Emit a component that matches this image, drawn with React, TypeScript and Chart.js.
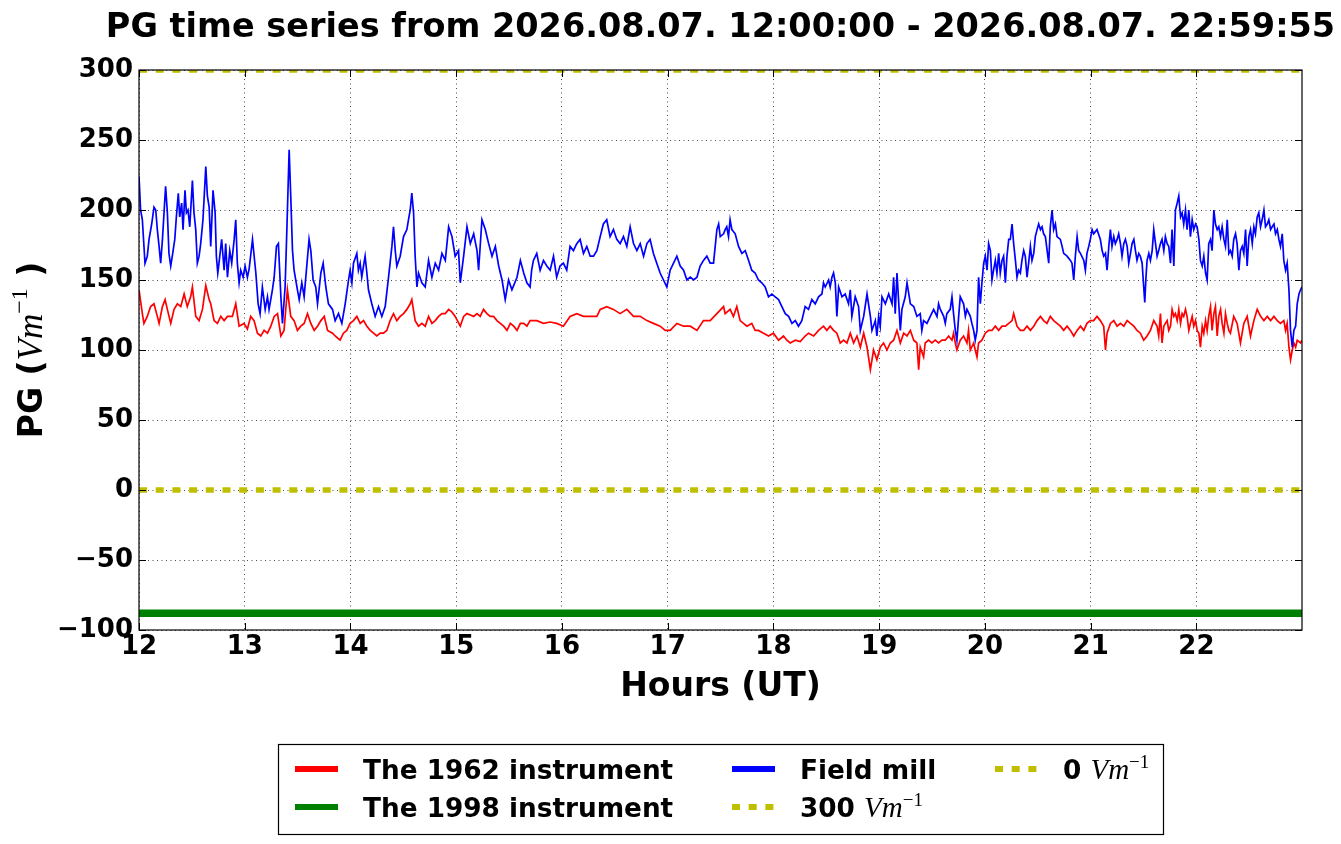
import React, { useEffect, useRef } from 'react';
import { Chart, registerables } from 'chart.js';

Chart.register(...registerables);

const TITLE = 'PG time series from 2026.08.07. 12:00:00 - 2026.08.07. 22:59:55';
const X_LABEL = 'Hours (UT)';
const START_HOUR = 12;
const END_HOUR = 22 + 59 / 60 + 55 / 3600;
const xTickValues = [12, 13, 14, 15, 16, 17, 18, 19, 20, 21, 22];
const yTickValues = [-100, -50, 0, 50, 100, 150, 200, 250, 300];
const Y_MIN = -100;
const Y_MAX = 300;

// [minutes since 12:00 UT, PG in V/m]
const fieldMill: [number, number][] = [
  [0, 224], [0.9, 200], [1.9, 193], [3.4, 162], [4.7, 167], [5.7, 179], [7.2, 190], [8.5, 202], [9.5, 200], [10.4, 186],
  [11.4, 174], [12.3, 162], [13.3, 179], [14.2, 198], [15.1, 217], [16.1, 198], [17.0, 169], [18.0, 160], [18.9, 167], [20.3, 179],
  [21.2, 195], [22.3, 212], [23.1, 195], [24.2, 205], [25.0, 186], [26.1, 214], [26.9, 198], [27.8, 200], [28.8, 188], [30.3, 221],
  [31.2, 198], [32.2, 186], [33.1, 162], [34.1, 167], [35.0, 176], [36.3, 193], [37.9, 231], [38.8, 210], [39.8, 202], [40.7, 174],
  [42.0, 214], [43.2, 198], [43.9, 167], [44.7, 155], [45.4, 162], [46.9, 179], [48.3, 157], [49.2, 176], [50.2, 152], [51.5, 171],
  [52.6, 162], [54.0, 179], [54.9, 193], [55.8, 162], [56.8, 148], [57.7, 157], [59.1, 152], [60.2, 160], [61.5, 152], [62.5, 158],
  [64.4, 179], [66.3, 155], [67.6, 133], [68.7, 126], [70.0, 145], [71.6, 129], [72.9, 138], [73.8, 129], [75.7, 143], [76.7, 152],
  [78.0, 174], [79.1, 176], [80.5, 138], [81.4, 119], [82.9, 145], [83.9, 186], [85.2, 243], [86.1, 210], [87.1, 171], [88.0, 157],
  [89.9, 143], [90.9, 136], [92.4, 148], [93.7, 138], [96.5, 179], [97.5, 171], [98.8, 150], [100.3, 145], [101.3, 133], [103.2, 155],
  [104.5, 162], [106.0, 145], [107.5, 133], [109.8, 129],
  [111.3, 121], [113.2, 126], [115.1, 119], [117.0, 133], [118.9, 150], [119.8, 157], [120.8, 148], [121.7, 162], [123.6, 169], [124.5, 157],
  [125.5, 162], [126.4, 152], [127.4, 160], [128.3, 167], [129.3, 155], [130.2, 143], [132.1, 133], [134.0, 124], [135.9, 131], [137.8, 124],
  [139.7, 131], [141.6, 152], [143.5, 174], [144.4, 188], [145.4, 171], [146.3, 160], [148.2, 167], [150.1, 181], [152.0, 186], [152.9, 193],
  [153.9, 200], [154.8, 212], [155.8, 198], [156.7, 167], [157.7, 145], [158.6, 155], [160.5, 148], [162.4, 145], [164.3, 164], [166.2, 152],
  [168.1, 162], [170.0, 157], [171.9, 169], [173.8, 164], [175.7, 188], [177.6, 181], [179.4, 167], [181.3, 171], [182.3, 148], [184.2, 167],
  [186.1, 188], [188.0, 176], [189.9, 183], [191.8, 171], [192.7, 157], [194.6, 193], [196.5, 186], [198.4, 176], [200.3, 167], [202.2, 174],
  [204.1, 160], [206.0, 150], [207.8, 136], [209.7, 150], [211.6, 143], [214.5, 152], [216.4, 164], [218.3, 155], [220.1, 148],
  [221.9, 145], [222.8, 157], [223.8, 164], [225.7, 169], [227.6, 157], [229.5, 164], [231.4, 160], [233.3, 157], [235.2, 167], [237.0, 152],
  [238.9, 160], [240.8, 162], [242.7, 157], [244.6, 174], [246.5, 171], [248.4, 176], [250.3, 179], [252.2, 169], [254.1, 174], [256.0, 167],
  [257.9, 167], [259.8, 171], [261.7, 181], [263.5, 190], [265.4, 193], [267.3, 181], [269.2, 186], [271.1, 179], [273.0, 176], [274.9, 181],
  [276.8, 174], [278.7, 188], [280.6, 176], [282.5, 171], [284.4, 176], [286.3, 167], [288.2, 176], [290.0, 179], [291.9, 169], [293.8, 162],
  [295.7, 155], [297.6, 150], [299.5, 145], [301.4, 157], [303.3, 162], [305.2, 167], [307.1, 160], [309.0, 157], [310.9, 150], [312.8, 152],
  [314.7, 150], [316.6, 152], [318.4, 160], [320.3, 164], [322.2, 167], [324.1, 162], [326.0, 162], [327.9, 186], [328.9, 190], [329.8, 181],
  [331.7, 183],
  [332.6, 186], [333.5, 188], [334.5, 181], [335.4, 193], [336.4, 186], [338.3, 183], [340.2, 174], [342.1, 169], [344.0, 171], [345.9, 164],
  [347.7, 157], [349.6, 155], [351.5, 150], [353.4, 148], [355.3, 145], [357.2, 138], [359.1, 140], [361.0, 138], [362.9, 136], [364.8, 131],
  [366.7, 126], [368.6, 124], [370.5, 119], [372.4, 121], [374.2, 117], [376.1, 121], [378.0, 131], [379.9, 129], [381.8, 136], [383.7, 133],
  [385.6, 138], [387.5, 140], [388.4, 148], [389.4, 145], [391.3, 150], [392.2, 145], [393.2, 152], [394.1, 155], [395.1, 148], [396.0, 124],
  [397.0, 145], [398.9, 138], [400.7, 140], [402.6, 133], [403.6, 143], [404.5, 124], [406.4, 138], [408.3, 131], [409.3, 114], [411.2, 124],
  [413.1, 140], [415.0, 124], [415.9, 114], [417.8, 121], [418.7, 110], [419.7, 124], [420.6, 117], [421.6, 138], [423.5, 133], [425.4, 140],
  [427.3, 133], [428.2, 152], [429.1, 126], [430.1, 155], [432.0, 114], [432.9, 129], [434.8, 138], [435.8, 148], [437.7, 133], [439.6, 131],
  [441.4, 124],
  [443.3, 126], [444.2, 114], [445.2, 121], [447.1, 119], [449.0, 124], [450.9, 129], [452.8, 124], [453.7, 133], [454.7, 129], [456.6, 124],
  [457.5, 119], [458.4, 126], [460.3, 129], [461.3, 138], [462.2, 126], [463.2, 114], [464.1, 107], [465.1, 124], [466.0, 138], [467.9, 133],
  [468.9, 124], [469.8, 129], [471.7, 124], [472.6, 119], [473.6, 114], [474.5, 107], [475.5, 114], [476.4, 152], [477.4, 133], [478.3, 148],
  [479.3, 162], [480.2, 167], [481.2, 157], [482.1, 176], [483.1, 171], [484.0, 150], [484.9, 157], [485.9, 164], [486.8, 155], [487.8, 169],
  [488.7, 155], [489.7, 164], [490.6, 167], [491.6, 148], [492.5, 167], [493.5, 179], [494.4, 179], [495.4, 190], [496.3, 176], [497.3, 164],
  [498.2, 152], [499.1, 157], [500.1, 155], [501.0, 164], [502.0, 171], [502.9, 167], [503.9, 152], [504.8, 162], [505.8, 174], [506.7, 164],
  [507.7, 169], [508.6, 181], [509.6, 186], [510.5, 190], [511.5, 186], [512.4, 188], [513.3, 183], [514.3, 181], [516.2, 162], [517.1, 188],
  [518.1, 200], [519.0, 186], [520.0, 190], [520.9, 181], [522.8, 179], [523.8, 174], [524.7, 169], [526.6, 167], [528.5, 164], [529.4, 162],
  [530.4, 150], [531.3, 167], [532.3, 181], [533.2, 171], [534.2, 169], [536.1, 164], [537.0, 157], [537.9, 169], [538.9, 174], [539.8, 179],
  [540.8, 186], [541.7, 183], [543.6, 186], [545.5, 179], [546.5, 171], [547.4, 167], [548.4, 169], [549.3, 157], [550.3, 174],
  [551.2, 186], [552.1, 174], [553.1, 181], [554.0, 176], [555.0, 179], [555.9, 183], [556.9, 176], [557.8, 167], [558.8, 176], [559.7, 179],
  [560.7, 174], [561.6, 162], [562.6, 169], [563.5, 176], [564.5, 179], [565.4, 171], [566.3, 164], [567.3, 169], [568.2, 167], [569.2, 162],
  [570.1, 145], [570.7, 134], [571.3, 150], [572.0, 164], [573.0, 169], [573.9, 164], [574.9, 171], [575.8, 186], [576.8, 176], [577.7, 167],
  [578.6, 171], [579.6, 176], [580.5, 179], [581.5, 171], [582.4, 181], [583.4, 176], [584.3, 174], [585.3, 162], [586.2, 186], [587.2, 160],
  [588.1, 200], [589.1, 205], [590.0, 210], [591.0, 195], [591.9, 198], [592.8, 190], [593.8, 200], [594.7, 186], [595.7, 200], [596.6, 181],
  [597.6, 193], [598.5, 186], [599.5, 190], [600.4, 188], [601.4, 179], [602.3, 164], [603.3, 160], [604.2, 167], [605.2, 155], [606.1, 150],
  [607.0, 176], [608.0, 179], [608.9, 171], [609.9, 200], [610.8, 190], [611.8, 186], [612.7, 188], [613.7, 181], [614.6, 188], [615.6, 179],
  [616.5, 174], [617.5, 193], [618.4, 169], [619.3, 171], [620.3, 167], [621.2, 179], [622.2, 183], [623.1, 176], [624.1, 157], [625.0, 171],
  [626.0, 174], [626.9, 169], [627.9, 186], [628.8, 160], [629.8, 181], [630.7, 186], [631.7, 176], [632.6, 188], [633.5, 183], [634.5, 195],
  [635.4, 198], [636.4, 188], [637.3, 193], [638.3, 200], [639.2, 188], [640.2, 190], [641.1, 193], [642.1, 186], [643.0, 188], [644.0, 190],
  [644.9, 183], [645.9, 186], [646.8, 179], [647.7, 174], [648.7, 183], [649.6, 164], [650.6, 157], [651.5, 162], [652.5, 143], [653.4, 114],
  [654.4, 102], [655.3, 114], [656.3, 117], [657.2, 133], [658.2, 140], [659.1, 143], [659.9, 145],
];

const instrument1962: [number, number][] = [
  [0, 143], [1.9, 126], [2.8, 119], [4.7, 124], [6.6, 131], [8.5, 133], [10.4, 124], [11.4, 119], [13.3, 131], [14.8, 136],
  [16.1, 129], [18.0, 119], [19.9, 129], [21.8, 133], [23.7, 131], [25.6, 140], [27.4, 131], [29.3, 138], [30.3, 145], [32.2, 124],
  [34.1, 121], [36.0, 129], [37.9, 146], [39.8, 136], [40.7, 133], [42.6, 121], [44.5, 119], [46.4, 124], [48.3, 121], [50.2, 124],
  [53.0, 124], [54.9, 133], [56.8, 117], [59.6, 119], [61.5, 115], [63.4, 124], [65.3, 121], [67.2, 112], [69.1, 110], [71.0, 114],
  [72.9, 112], [74.8, 117], [76.7, 124], [78.6, 126], [80.5, 110], [82.3, 114], [84.2, 143], [86.1, 124], [88.0, 121], [89.9, 114],
  [91.8, 117], [93.7, 119], [95.6, 126], [97.5, 119], [99.4, 114], [101.3, 117], [103.2, 121], [105.1, 124], [107.0, 114], [109.8, 112],
  [111.3, 110], [114.1, 107], [116.0, 112], [117.9, 114], [119.8, 119], [121.7, 121], [123.6, 124], [125.5, 119], [127.4, 121], [129.3, 117],
  [131.2, 114], [133.1, 112], [134.9, 110], [136.9, 112], [138.7, 112], [140.6, 114], [142.5, 121], [144.4, 126], [146.3, 121], [148.2, 124],
  [150.1, 126], [152.0, 129], [153.9, 133], [154.8, 136], [156.7, 121], [158.6, 117], [160.5, 119], [162.4, 117], [164.3, 124], [166.2, 119],
  [168.1, 121], [170.0, 124], [171.9, 126], [173.8, 126], [175.7, 129], [177.6, 127], [179.4, 124], [182.3, 117], [184.2, 124], [186.1, 126],
  [188.0, 125], [189.9, 124], [191.8, 126], [193.6, 124], [195.5, 129], [197.4, 126], [199.3, 124], [201.2, 124], [203.1, 121], [205.0, 119],
  [206.9, 117], [208.8, 114], [210.7, 119], [212.6, 117], [214.5, 114], [216.4, 119], [218.3, 119], [220.1, 117],
  [221.9, 121], [225.7, 121], [229.5, 119], [233.3, 120], [237.0, 119], [240.8, 117], [244.6, 124], [248.4, 126], [252.2, 124], [256.0, 124],
  [259.8, 124], [261.7, 129], [265.4, 131], [269.2, 129], [273.0, 126], [276.8, 129], [280.6, 124], [284.4, 124], [288.2, 121], [291.9, 119],
  [295.7, 117], [298.6, 114], [301.4, 114], [305.2, 119], [309.0, 117], [312.8, 117], [316.6, 114], [320.3, 121], [324.1, 121], [327.9, 126],
  [331.7, 131],
  [332.6, 126], [335.4, 129], [337.3, 124], [339.2, 131], [341.1, 121], [343.0, 119], [344.9, 117], [347.7, 119], [349.6, 114], [351.5, 114],
  [354.4, 112], [357.2, 110], [360.0, 112], [362.9, 107], [365.7, 110], [367.6, 107], [369.5, 105], [372.4, 107], [375.2, 106], [378.0, 110],
  [379.9, 112], [382.8, 110], [385.6, 114], [388.4, 117], [390.3, 114], [392.2, 117], [394.1, 114], [396.0, 112], [397.9, 105], [399.8, 107],
  [401.7, 105], [403.6, 112], [405.5, 105], [407.4, 110], [409.3, 102], [411.2, 112], [413.1, 102], [415.0, 86], [416.8, 100], [418.7, 93],
  [420.6, 102], [422.5, 105], [424.4, 100], [426.3, 105], [428.2, 107], [430.1, 114], [432.0, 105], [433.9, 112], [435.8, 110], [437.7, 114],
  [439.6, 107], [441.4, 105], [442.4, 86],
  [443.3, 102], [445.2, 95], [446.1, 105], [448.0, 107], [449.9, 105], [451.8, 107], [453.7, 105], [455.6, 107], [457.5, 107], [459.4, 110],
  [461.3, 107], [462.2, 112], [463.2, 105], [464.1, 100], [466.0, 107], [467.9, 110], [469.8, 105], [470.7, 114], [471.7, 100], [473.6, 105],
  [474.5, 100], [475.5, 95], [476.4, 105], [478.3, 107], [480.2, 112], [482.1, 114], [484.0, 114], [485.9, 117], [487.8, 114], [489.7, 117],
  [491.6, 117], [493.5, 119], [495.4, 121], [496.3, 126], [498.2, 117], [500.1, 114], [502.0, 114], [503.9, 117], [505.8, 114], [507.7, 117],
  [509.6, 121], [511.5, 124], [513.3, 121], [515.2, 119], [517.1, 124], [519.0, 121], [520.9, 119], [522.8, 117], [524.7, 114], [526.6, 117],
  [528.5, 114], [530.4, 110], [532.3, 114], [534.2, 117], [536.1, 114], [537.9, 119], [539.8, 121], [541.7, 121], [543.6, 124], [545.5, 121],
  [547.4, 117], [548.4, 100], [549.3, 112],
  [551.2, 119], [553.1, 121], [555.0, 117], [556.9, 119], [558.8, 117], [560.7, 121], [562.6, 119], [564.5, 117], [566.3, 114], [568.2, 112],
  [570.1, 107], [572.0, 110], [573.9, 114], [575.8, 121], [577.7, 117], [578.6, 110], [579.6, 126], [580.5, 105], [581.5, 117], [582.4, 119],
  [583.4, 121], [584.3, 114], [585.3, 117], [586.2, 129], [587.2, 124], [588.1, 126], [589.1, 121], [590.0, 129], [591.0, 119], [591.9, 126],
  [592.8, 124], [593.8, 129], [594.7, 124], [595.7, 114], [596.6, 119], [597.6, 124], [598.5, 117], [599.5, 121], [600.4, 114], [601.4, 112],
  [602.3, 102], [603.3, 117], [604.2, 112], [605.2, 121], [606.1, 114], [607.0, 124], [608.0, 131], [608.9, 114], [609.9, 126], [610.8, 131],
  [611.8, 110], [612.7, 124], [613.7, 129], [614.6, 119], [615.6, 112], [616.5, 126], [617.5, 119], [618.4, 114], [619.3, 112], [621.2, 124],
  [623.1, 119], [625.0, 105], [626.9, 119], [628.8, 124], [630.7, 110], [632.6, 121], [634.5, 129], [636.4, 124], [638.3, 121], [640.2, 124],
  [642.1, 121], [644.0, 124], [645.9, 121], [647.7, 119], [649.6, 121], [650.6, 114], [651.5, 119], [652.5, 102], [653.4, 93], [654.4, 100],
  [655.3, 105], [656.3, 102], [657.2, 107], [659.1, 105], [659.9, 107],
];

const instrument1998Level = -88;
const referenceLevel300 = 300;
const referenceLevel0 = 0;

type Part = { text: string; font: string; dy?: number };

const SANS = '"DejaVu Sans", "Noto Sans", sans-serif';
const SERIF = '"Liberation Serif", "DejaVu Serif", serif';

const legendLabels: Part[][] = [
  [{ text: 'The 1962 instrument', font: `bold 26.3px ${SANS}` }],
  [{ text: 'The 1998 instrument', font: `bold 26.3px ${SANS}` }],
  [{ text: 'Field mill', font: `bold 26.3px ${SANS}` }],
  [
    { text: '300 ', font: `bold 26.3px ${SANS}` },
    { text: 'Vm', font: `italic 29px ${SERIF}` },
    { text: '\u22121', font: `19px ${SERIF}`, dy: -11 },
  ],
  [
    { text: '0 ', font: `bold 26.3px ${SANS}` },
    { text: 'Vm', font: `italic 29px ${SERIF}` },
    { text: '\u22121', font: `19px ${SERIF}`, dy: -11 },
  ],
];

const yLabelParts: Part[] = [
  { text: 'PG (', font: `bold 33px ${SANS}` },
  { text: 'Vm', font: `italic 35px ${SERIF}` },
  { text: '\u22121', font: `24px ${SERIF}`, dy: -15 },
  { text: ' )', font: `bold 33px ${SANS}` },
];

function partsWidth(ctx: CanvasRenderingContext2D, parts: Part[]) {
  let w = 0;
  for (const p of parts) {
    ctx.font = p.font;
    w += ctx.measureText(p.text).width;
  }
  return w;
}

function drawParts(ctx: CanvasRenderingContext2D, parts: Part[], x: number, y: number) {
  let cx = x;
  for (const p of parts) {
    ctx.font = p.font;
    ctx.fillText(p.text, cx, y + (p.dy || 0));
    cx += ctx.measureText(p.text).width;
  }
}

const toPoints = (arr: [number, number][]) => arr.map(([m, v]) => ({ x: START_HOUR + m / 60, y: v }));
const flat = (v: number) => [
  { x: START_HOUR, y: v },
  { x: END_HOUR, y: v },
];

const decorPlugin = {
  id: 'decor',
  afterDraw(chart: any) {
    const { ctx, chartArea } = chart;
    const { left, right, top, bottom } = chartArea;
    const xs = chart.scales.x;
    const ys = chart.scales.y;
    ctx.save();
    // frame
    ctx.strokeStyle = '#000';
    ctx.lineWidth = 1.2;
    ctx.setLineDash([]);
    ctx.strokeRect(left, top, right - left, bottom - top);
    // inward ticks on all sides
    ctx.lineWidth = 1;
    const TL = 7;
    ctx.beginPath();
    for (const v of xTickValues) {
      const px = Math.round(xs.getPixelForValue(v)) + 0.5;
      ctx.moveTo(px, bottom);
      ctx.lineTo(px, bottom - TL);
      ctx.moveTo(px, top);
      ctx.lineTo(px, top + TL);
    }
    for (const v of yTickValues) {
      const py = Math.round(ys.getPixelForValue(v)) + 0.5;
      ctx.moveTo(left, py);
      ctx.lineTo(left + TL, py);
      ctx.moveTo(right, py);
      ctx.lineTo(right - TL, py);
    }
    ctx.stroke();

    ctx.fillStyle = '#000';
    // title
    ctx.font = `bold 33.5px ${SANS}`;
    ctx.textAlign = 'center';
    ctx.textBaseline = 'alphabetic';
    ctx.fillText(TITLE, (left + right) / 2, 37);
    // x label
    ctx.font = `bold 33px ${SANS}`;
    ctx.fillText(X_LABEL, (left + right) / 2, 696);
    // y label
    ctx.textAlign = 'left';
    ctx.save();
    ctx.translate(42, (top + bottom) / 2);
    ctx.rotate(-Math.PI / 2);
    const yw = partsWidth(ctx, yLabelParts);
    drawParts(ctx, yLabelParts, -yw / 2, 0);
    ctx.restore();

    // legend
    const boxL = 278, boxT = 744, boxW = 885, boxH = 90;
    ctx.fillStyle = '#fff';
    ctx.fillRect(boxL, boxT, boxW, boxH);
    ctx.strokeStyle = '#000';
    ctx.lineWidth = 1.2;
    ctx.strokeRect(boxL + 0.5, boxT + 0.5, boxW, boxH);
    const colX = [295, 732, 995];
    const rowY = [769, 807];
    const sampleLen = 43;
    const textGap = 68;
    const datasets = chart.data.datasets;
    datasets.forEach((ds: any, i: number) => {
      const col = Math.floor(i / 2);
      const row = i % 2;
      const sx = colX[col];
      const sy = rowY[row];
      ctx.save();
      ctx.strokeStyle = ds.borderColor;
      ctx.lineWidth = 6;
      ctx.setLineDash(ds.borderDash || []);
      ctx.lineCap = 'butt';
      ctx.beginPath();
      ctx.moveTo(sx, sy);
      ctx.lineTo(sx + sampleLen, sy);
      ctx.stroke();
      ctx.restore();
      ctx.fillStyle = '#000';
      ctx.textAlign = 'left';
      ctx.textBaseline = 'alphabetic';
      drawParts(ctx, legendLabels[i], sx + textGap, sy + 9.5);
    });
    ctx.restore();
  },
};

export default function App() {
  const canvasRef = useRef<HTMLCanvasElement | null>(null);

  useEffect(() => {
    const canvas = canvasRef.current;
    if (!canvas) return;
    const chart = new Chart(canvas, {
      type: 'line',
      data: {
        datasets: [
          {
            label: 'The 1962 instrument',
            data: toPoints(instrument1962),
            borderColor: '#ff0000',
            borderWidth: 1.7,
            pointRadius: 0,
            tension: 0,
            clip: 0,
            order: 5,
          },
          {
            label: 'The 1998 instrument',
            data: flat(instrument1998Level),
            borderColor: '#008000',
            borderWidth: 7.5,
            pointRadius: 0,
            clip: 0,
            order: 4,
          },
          {
            label: 'Field mill',
            data: toPoints(fieldMill),
            borderColor: '#0000ff',
            borderWidth: 1.7,
            pointRadius: 0,
            tension: 0,
            clip: 0,
            order: 3,
          },
          {
            label: '300 Vm-1',
            data: flat(referenceLevel300),
            borderColor: '#bfbf00',
            borderWidth: 5.5,
            borderDash: [8, 8.7],
            borderCapStyle: 'butt',
            pointRadius: 0,
            clip: 0,
            order: 2,
          },
          {
            label: '0 Vm-1',
            data: flat(referenceLevel0),
            borderColor: '#bfbf00',
            borderWidth: 5.5,
            borderDash: [8, 8.7],
            borderCapStyle: 'butt',
            pointRadius: 0,
            clip: 0,
            order: 1,
          },
        ] as any,
      },
      options: {
        animation: false,
        responsive: true,
        maintainAspectRatio: false,
        layout: { padding: { top: 70, right: 39, bottom: 0, left: 0 } },
        plugins: {
          legend: { display: false },
          title: { display: false },
          tooltip: { enabled: false },
        },
        scales: {
          x: {
            type: 'linear',
            min: START_HOUR,
            max: END_HOUR,
            afterBuildTicks: (scale: any) => {
              scale.ticks = xTickValues.map((v) => ({ value: v }));
            },
            afterFit: (scale: any) => {
              scale.height = 214;
            },
            ticks: {
              color: '#000',
              padding: 2,
              font: { family: SANS, size: 26, weight: 'bold' },
              callback: (v: any) => String(v),
              maxRotation: 0,
              autoSkip: false,
            },
            grid: {
              color: 'rgba(0,0,0,0.7)',
              lineWidth: 1,
              drawTicks: false,
            },
            border: { display: false, dash: [1, 3.5] },
          },
          y: {
            type: 'linear',
            min: Y_MIN,
            max: Y_MAX,
            afterBuildTicks: (scale: any) => {
              scale.ticks = yTickValues.map((v) => ({ value: v }));
            },
            afterFit: (scale: any) => {
              scale.width = 139;
            },
            ticks: {
              color: '#000',
              padding: 6,
              font: { family: SANS, size: 26, weight: 'bold' },
              callback: (v: any) => (v < 0 ? '\u2212' + Math.abs(v) : String(v)),
              autoSkip: false,
            },
            grid: {
              color: 'rgba(0,0,0,0.7)',
              lineWidth: 1,
              drawTicks: false,
            },
            border: { display: false, dash: [1, 3.5] },
          },
        },
      } as any,
      plugins: [decorPlugin],
    });
    return () => chart.destroy();
  }, []);

  return (
    <div style={{ position: 'fixed', left: 0, top: 0, width: 1341, height: 844, background: '#fff' }}>
      <canvas ref={canvasRef} />
    </div>
  );
}
